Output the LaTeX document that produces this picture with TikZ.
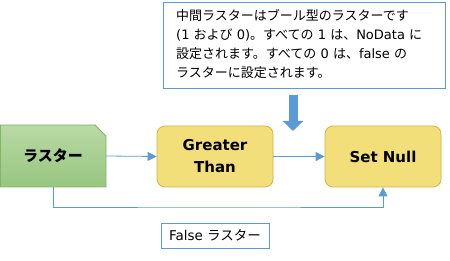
\documentclass[tikz,border=0pt]{standalone}
\usepackage{fontspec}
\setmainfont{Noto Sans CJK JP}
\newfontfamily\lat{DejaVu Sans}
\usetikzlibrary{arrows.meta,shadings}
\definecolor{lblue}{HTML}{5B9BD5}
\definecolor{gborder}{HTML}{82B366}
\definecolor{gtop}{HTML}{B9D9A5}
\definecolor{gbot}{HTML}{97C67F}
\definecolor{yfill}{HTML}{F2DF7A}
\definecolor{yborder}{HTML}{D6B04A}
\tikzset{
  procbox/.style={draw=yborder, fill=yfill, rounded corners=8pt, line width=0.8pt,
    minimum width=116pt, minimum height=61pt, inner sep=0pt, align=center,
    font=\fontsize{15}{22}\selectfont\lat\bfseries},
  conn/.style={draw=lblue, line width=0.8pt, -{Triangle[length=9pt,width=9pt]}},
  note/.style={draw=lblue, line width=0.8pt, fill=white, inner sep=0pt}
}
\begin{document}
\begin{tikzpicture}[x=1pt,y=-1pt]
\useasboundingbox (0,0) rectangle (450,261);
% callout
\node[note, minimum width=282pt, minimum height=86pt, anchor=north west] (callout) at (163,2) {};
\node[anchor=north west, align=left, inner sep=0pt, font=\fontsize{13}{19}\selectfont] (callouttext) at (176,9)
 {中間ラスターはブール型のラスターです\\{\lat (1 }および{\lat{} 0)}。すべての{\lat{} 1 }は、{\lat{}NoData }に\\設定されます。すべての{\lat{} 0 }は、{\lat{}false }の\\ラスターに設定されます。};
% thick down arrow
\coordinate (arrtop) at (293,95);
\coordinate (arrtip) at (293,131);
\draw[lblue, line width=9pt, -{Triangle[length=10pt,width=20pt]}] (arrtop) -- (arrtip);
% raster node (dog-eared)
\shade[top color=gtop, bottom color=gbot, draw=gborder, line width=0.8pt]
  (0.4,125) -- (95,125) -- (106,136) -- (106,187) -- (0.4,187) -- cycle;
\node[font=\fontsize{15}{18}\selectfont\bfseries] (raster) at (53,156) {ラスター};
\coordinate (rasterE) at (106,156);
\coordinate (rasterS) at (53,187);
% process nodes
\node[procbox] (gt) at (215,156.5) {Greater\\Than};
\node[procbox] (sn) at (383,156.5) {Set Null};
% connectors
\draw[conn] (rasterE) -- (gt.west);
\draw[conn] (gt.east) -- (sn.west);
\draw[conn] (rasterS) |- (220,207) -| (sn.south);
% false raster label
\node[draw=lblue, line width=0.8pt, minimum width=108pt, minimum height=25pt, inner sep=0pt,
  font=\fontsize{13.5}{16}\selectfont] (falsel) at (215,235.5) {{\lat False }ラスター};
\end{tikzpicture}
\end{document}
